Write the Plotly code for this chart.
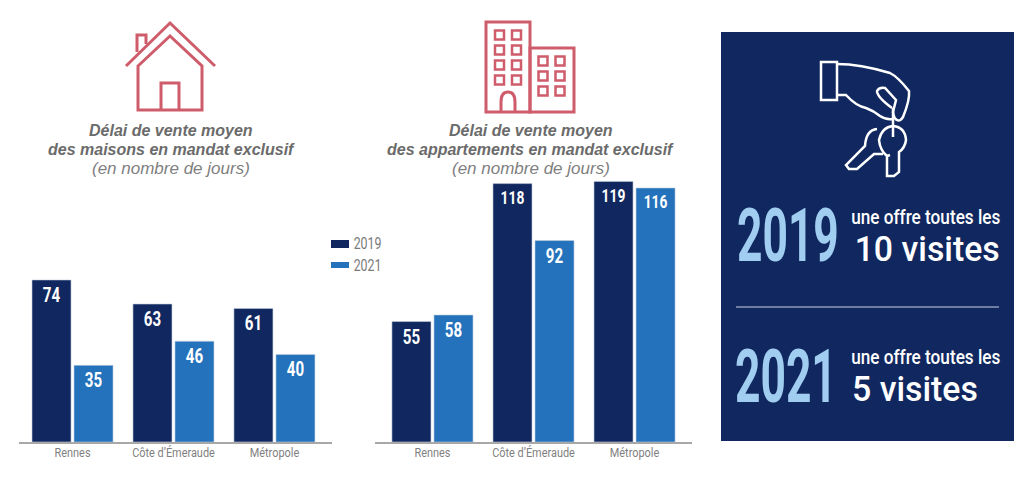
import json
import plotly.graph_objects as go

W = 1024
H = 478

categories = ["Rennes", "Côte d’Émeraude", "Métropole"]
maisons_2019 = [74, 63, 61]
maisons_2021 = [35, 46, 40]
apparts_2019 = [55, 118, 119]
apparts_2021 = [58, 92, 116]
years = ["2019", "2021"]

NAVY = "#10285f"
BLUE = "#2472bb"
LIGHT = "#a0cdf0"
PINK = "#cf5c6b"
GREY = "#6b6b6b"
SANS = "Liberation Sans"
COND = "Roboto"

# no condensed font is installed: texts in these sizes get squeezed horizontally after drawing
SIZE_BAR = 21
SIZE_TICK = 13.5
SIZE_LEG = 16.5
SIZE_YEAR = 74
SIZE_OFFRE = 20
SIZE_VISITES = 36
squeeze = {SIZE_BAR: 0.72, SIZE_TICK: 0.81, SIZE_LEG: 0.75, SIZE_YEAR: 0.6,
           SIZE_OFFRE: 0.86, SIZE_VISITES: 0.94}


# reference is measured in pixels, shapes and texts go to paper coordinates
def px(x):
    return x / W


def py(y):
    return 1 - y / H


def path(d):
    # d is a list like ["M", x, y, "L", x, y, "Q", x1, y1, x, y, "Z"]
    out = []
    is_x = True
    for t in d:
        if isinstance(t, str):
            out.append(t)
            is_x = True
        else:
            out.append(f"{px(t) if is_x else py(t):.5f}")
            is_x = not is_x
    return " ".join(out)


def line_icon(d, color=PINK, width=3):
    return dict(type="path", xref="paper", yref="paper", path=path(d),
                line=dict(color=color, width=width), layer="above")


def rect_icon(x0, y0, x1, y1, color=PINK, width=3):
    return dict(type="rect", xref="paper", yref="paper", x0=px(x0), y0=py(y0), x1=px(x1), y1=py(y1),
                line=dict(color=color, width=width), layer="above")


def block(x0, y0, x1, y1, color):
    return dict(type="rect", xref="paper", yref="paper", x0=px(x0), y0=py(y0), x1=px(x1), y1=py(y1),
                fillcolor=color, line=dict(width=0), layer="below")


def label(x, y, text, size, color, family=SANS, weight=400, italic=False):
    return dict(xref="paper", yref="paper", x=px(x), y=py(y), text=text, showarrow=False,
                xanchor="center", yanchor="middle", align="center",
                font=dict(family=family, size=size, color=color, weight=weight,
                          style="italic" if italic else "normal"))


fig = go.Figure()

for xa, ya, v19, v21 in [("x", "y", maisons_2019, maisons_2021),
                         ("x2", "y2", apparts_2019, apparts_2021)]:
    for name, vals, col in [(years[0], v19, NAVY), (years[1], v21, BLUE)]:
        fig.add_trace(go.Bar(x=categories, y=vals, name=name, xaxis=xa, yaxis=ya,
                             marker=dict(color=col, line=dict(color="#c4cede", width=0.6)),
                             text=vals, textposition="inside", insidetextanchor="end",
                             textangle=0, cliponaxis=False,
                             textfont=dict(family=COND, size=SIZE_BAR, color="white", weight="bold"),
                             showlegend=False))

ymax = 270 / 2.19
tick = dict(family=COND, size=SIZE_TICK, color="#7f7f7f")
axis_x = dict(type="category", showline=True, linecolor="#a8a8a8", linewidth=2, ticks="",
              showgrid=False, tickfont=tick, ticklabelstandoff=-3, fixedrange=True)
axis_y = dict(visible=False, range=[0, ymax], fixedrange=True)

shapes = []

# house
shapes += [
    line_icon(["M", 126, 66, "L", 170, 23, "L", 215, 66]),
    line_icon(["M", 138, 66, "L", 170, 36, "L", 202, 66, "L", 202, 110, "L", 138, 110, "Z"]),
    line_icon(["M", 161, 110, "L", 161, 83, "L", 179, 83, "L", 179, 110]),
    line_icon(["M", 137, 52, "L", 137, 35, "L", 146, 35, "L", 146, 44]),
]

# buildings
shapes += [
    rect_icon(486, 22, 530, 112),
    rect_icon(530, 48, 574, 112),
    line_icon(["M", 501, 112, "L", 501, 102, "Q", 501, 92, 508, 92, "Q", 515, 92, 515, 102, "L", 515, 112]),
]
for cx in [499.5, 516.5]:
    for cy in [35, 50, 65, 80]:
        shapes.append(rect_icon(cx - 4.5, cy - 4.5, cx + 4.5, cy + 4.5, width=2.5))
for cx in [543, 560]:
    for cy in [61, 76, 91]:
        shapes.append(rect_icon(cx - 4.5, cy - 4.5, cx + 4.5, cy + 4.5, width=2.5))

# panel
shapes.append(block(721, 32, 1014, 441, NAVY))
shapes.append(dict(type="line", xref="paper", yref="paper", x0=px(736), y0=py(307), x1=px(999), y1=py(307),
                   line=dict(color="#c9d3e6", width=1)))

# hand and keys
WH = "white"
shapes += [
    rect_icon(821, 62, 837, 100, color=WH, width=2.5),
    line_icon(["M", 837, 64, "Q", 860, 64, 890, 73, "Q", 898, 77, 909, 91, "Q", 910, 100, 903, 117,
               "Q", 900, 122, 897, 120, "Q", 894, 119, 893, 112, "L", 896, 100, "L", 885, 88,
               "Q", 879, 87, 877, 91, "Q", 877, 97, 892, 108], color=WH, width=2.5),
    line_icon(["M", 837, 95, "L", 846, 95, "Q", 856, 106, 866, 108, "Q", 874, 111, 880, 116,
               "Q", 886, 120, 893, 119], color=WH, width=2.5),
    line_icon(["M", 893, 108, "L", 893, 137], color=WH, width=2.5),
    line_icon(["M", 890, 155, "L", 887, 156, "Q", 880, 150, 879, 140, "Q", 882, 127, 893, 126,
               "Q", 905, 127, 906, 140, "Q", 905, 148, 899, 152, "L", 899, 172, "L", 894, 176,
               "L", 887, 176, "L", 887, 155], color=WH, width=2.5),
    line_icon(["M", 877, 129, "Q", 866, 130, 865, 146, "L", 846, 165, "L", 849, 169, "L", 857, 169,
               "L", 874, 154, "L", 883, 154], color=WH, width=2.5),
]

# legend
shapes.append(block(331, 240, 349, 248, NAVY))
shapes.append(block(331, 262, 349, 268, BLUE))

annotations = [
    label(170.5, 131, "Délai de vente moyen", 16, GREY, weight=700, italic=True),
    label(171, 149, "des maisons en mandat exclusif", 16, GREY, weight=700, italic=True),
    label(171, 168, "(en nombre de jours)", 17, "#7f7f7f", italic=True),
    label(530.5, 131, "Délai de vente moyen", 16, GREY, weight=700, italic=True),
    label(530, 149, "des appartements en mandat exclusif", 16, GREY, weight=700, italic=True),
    label(531, 168, "(en nombre de jours)", 17, "#7f7f7f", italic=True),
    label(367, 243, years[0], SIZE_LEG, "#7a7a7a", family=COND),
    label(367, 265, years[1], SIZE_LEG, "#7a7a7a", family=COND),
    label(787.5, 235, years[0], SIZE_YEAR, LIGHT, family=COND, weight=700),
    label(785.5, 376, years[1], SIZE_YEAR, LIGHT, family=COND, weight=700),
    label(926, 217, "une offre toutes les", SIZE_OFFRE, "white", family=COND, weight=500),
    label(926.5, 249, "10 visites", SIZE_VISITES, "white", family=COND, weight=500),
    label(926, 357, "une offre toutes les", SIZE_OFFRE, "white", family=COND, weight=500),
    label(915, 389, "5 visites", SIZE_VISITES, "white", family=COND, weight=500),
]

fig.update_layout(
    width=W, height=H, margin=dict(l=0, r=0, t=0, b=0, pad=0),
    paper_bgcolor="white", plot_bgcolor="white",
    barmode="group", bargap=0.168, bargroupgap=0.071,
    xaxis=dict(axis_x, domain=[px(19), px(332)], range=[-0.53, 2.57], anchor="y"),
    yaxis=dict(axis_y, domain=[py(442), py(442 - 270)], anchor="x"),
    xaxis2=dict(axis_x, domain=[px(375), px(692)], range=[-0.569, 2.569], anchor="y2"),
    yaxis2=dict(axis_y, domain=[py(442), py(442 - 270)], anchor="x2"),
    shapes=shapes, annotations=annotations,
)

post = """
document.body.style.margin = '0';
var squeeze = %s;
setTimeout(function () {
  document.querySelectorAll('.annotation-text, .bartext, .xtick text, .x2tick text').forEach(function (t) {
    var s = squeeze[String(parseFloat(t.style.fontSize))];
    if (!s) return;
    var b = t.getBBox();
    var c = b.x + b.width / 2;
    var old = t.getAttribute('transform') || '';
    t.setAttribute('transform', old + ' translate(' + c + ',0) scale(' + s + ',1) translate(' + (-c) + ',0)');
  });
}, 0);
""" % json.dumps({str(k): v for k, v in squeeze.items()})

fig.write_html("out.html", post_script=post, config=dict(displayModeBar=False))
